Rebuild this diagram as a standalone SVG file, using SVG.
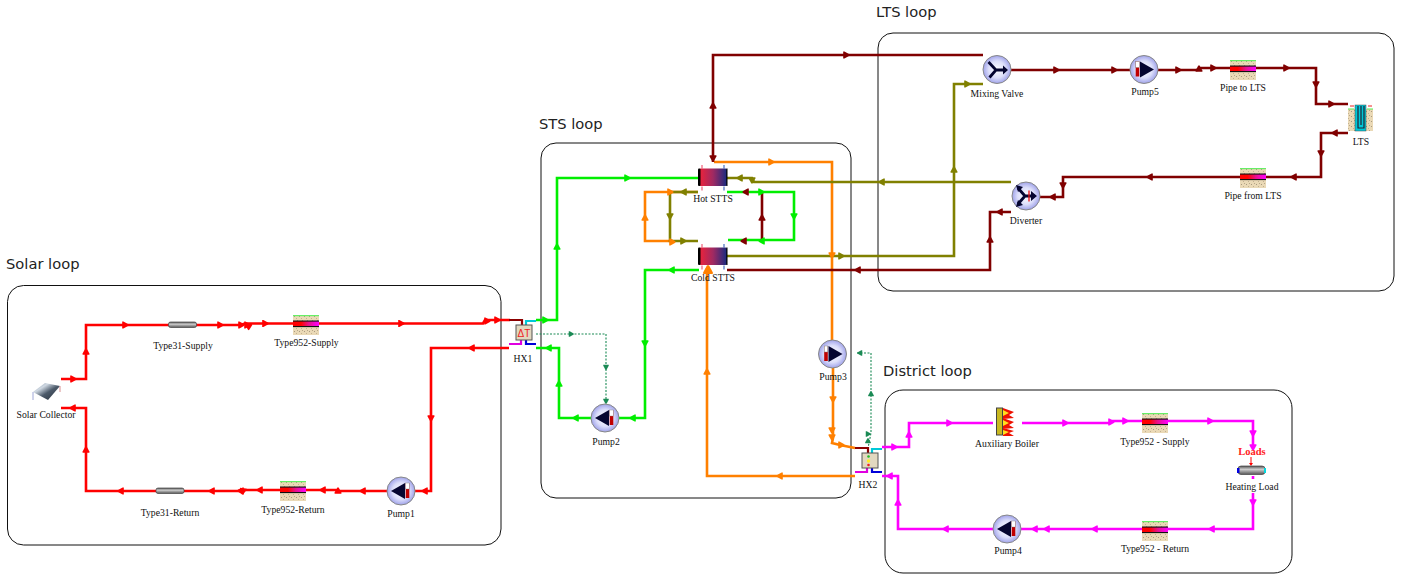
<svg xmlns="http://www.w3.org/2000/svg" width="1403" height="574" viewBox="0 0 1403 574">
<style>
.box{fill:none;stroke:#111;stroke-width:1}
.loop{font:14.7px "DejaVu Sans",sans-serif;fill:#222}
.lb{font:9.7px "Liberation Serif",serif;fill:#111;text-anchor:middle}
.c{fill:none;stroke-width:2.6;stroke-linejoin:miter}
.red{stroke:#ff0000}.grn{stroke:#00ee00}.org{stroke:#ff8000}.mag{stroke:#ff00ff}.dr{stroke:#800000}.olv{stroke:#808000}
.dot{fill:none;stroke:#1b8a55;stroke-width:1.100;stroke-dasharray:2 1.500}
.ared{fill:#ff0000}.agrn{fill:#00ee00}.aorg{fill:#ff8000}.amag{fill:#ff00ff}.adr{fill:#800000}.aolv{fill:#808000}.adot{fill:#1b8a55}
</style>
<defs>
<path id="a" d="M-2.800-3.400L-1.600-3.400L3.400-0.700V0.700L-1.600 3.400H-2.800z"/>
<radialGradient id="pg" cx="0.5" cy="0.5" r="0.55"><stop offset="0" stop-color="#fff"/><stop offset="0.55" stop-color="#dcdefa"/><stop offset="1" stop-color="#9093e6"/></radialGradient>
<linearGradient id="pipeg"><stop offset="0" stop-color="#f00"/><stop offset="0.3" stop-color="#f00"/><stop offset="0.6" stop-color="#e8108a"/><stop offset="1" stop-color="#f0f"/></linearGradient>
<linearGradient id="cyl" x2="0" y2="1"><stop offset="0" stop-color="#555"/><stop offset="0.4" stop-color="#ccc"/><stop offset="1" stop-color="#555"/></linearGradient>
<linearGradient id="tank"><stop offset="0" stop-color="#f02238"/><stop offset="0.5" stop-color="#a02a62"/><stop offset="1" stop-color="#162a80"/></linearGradient>
<linearGradient id="sol" x1="0" y1="0" x2="1" y2="1"><stop offset="0" stop-color="#8a98a8"/><stop offset="0.3" stop-color="#cfd8e2"/><stop offset="0.55" stop-color="#4c5a6a"/><stop offset="1" stop-color="#262e38"/></linearGradient>
<pattern id="sand" width="5" height="5" patternUnits="userSpaceOnUse"><rect width="5" height="5" fill="#ead9b6"/><rect x="1" y="1" width="1" height="1" fill="#a89a80"/><rect x="3" y="3" width="1" height="1" fill="#c2b090"/><rect x="4" y="0" width="1" height="1" fill="#b8a78a"/></pattern>
<g id="pump"><circle r="14" fill="url(#pg)" stroke="#888" stroke-width="1"/><path d="M-10 0L4-8V8z" fill="#050530"/><rect x="4.700" y="-8" width="3.600" height="15" fill="#c00000"/><rect x="4.700" y="-8" width="3.600" height="6" fill="#fff" stroke="#777" stroke-width=".4"/></g>
<g id="pipe"><rect width="26" height="20" fill="url(#sand)"/><rect width="26" height="1.200" fill="#66ee66"/><rect y="6" width="26" height="5.500" fill="url(#pipeg)"/><rect y="5.500" width="26" height="1.100" fill="#111"/><rect y="11" width="26" height="1.100" fill="#111"/></g>
<g id="stts"><path d="M3-3.500V0M3 18V22" stroke="#f0607a" stroke-width="1.200"/><path d="M25-3.500V0M25 18V22" stroke="#4a70c0" stroke-width="1.200"/><rect x="0" y="0" width="28" height="17.500" rx="1.500" fill="url(#tank)"/><rect x="-1" y="0" width="2.500" height="17.500" rx="1" fill="#000"/><rect x="27.300" y="0" width="1.200" height="17.500" fill="#000"/></g>
<g id="cylinder"><rect width="28" height="5.500" rx="2" fill="url(#cyl)" stroke="#444" stroke-width=".7"/></g>
<g id="hxp"><path d="M-7 -5H6V0" fill="none" stroke="#8b0000" stroke-width="2.200"/><path d="M10 0V-4H20" fill="none" stroke="#00c8d8" stroke-width="2.200"/><path d="M-7 19H5V15" fill="none" stroke="#e000e0" stroke-width="2.200"/><path d="M10 15V19H20" fill="none" stroke="#0000d8" stroke-width="2.200"/><rect width="16" height="15" fill="#e2d8c0" stroke="#555" stroke-width="1"/></g>
</defs>
<rect width="1403" height="574" fill="#fff"/>
<g id="loops">
<rect class="box" x="7.500" y="285.500" width="493.500" height="259.500" rx="16"/>
<rect class="box" x="541" y="143" width="310" height="355" rx="15"/>
<rect class="box" x="878" y="33" width="516" height="258" rx="15"/>
<rect class="box" x="885" y="390" width="407" height="183" rx="18"/>
<text class="loop" x="6" y="269">Solar loop</text>
<text class="loop" x="539" y="129">STS loop</text>
<text class="loop" x="876" y="17">LTS loop</text>
<text class="loop" x="883" y="376">District loop</text>
</g>
<g id="connectors">
<path class="c red" d="M61 379H86V325H240L245 323.500H483L485 320H510"/>
<path class="c red" d="M509 348H431V491H387H338L336 490H306H240L238 491H86V408H61"/>
<path class="c grn" d="M536 320H557V178H698"/>
<path class="c grn" d="M536 348H559V418H591M619 418H645V270H699"/>
<path class="c grn" d="M727 192H794V240H728"/>
<path class="c dr" d="M762 192V240"/>
<path class="c org" d="M698 192H645V241H673"/>
<path class="c olv" d="M698 192H670V241H698"/>
<path class="c org" d="M714 162H832V342"/>
<path class="c dr" d="M983 55H713V162"/>
<path class="c olv" d="M727 178H752L754 182H1011"/>
<path class="c olv" d="M727 256H954V84H983"/>
<path class="c dr" d="M727 270H990V212H1011"/>
<path class="c org" d="M855 476H707V268"/>
<path class="c org" d="M833 366V438L832 443L840 445L855 448"/>
<path class="c dr" d="M1011 70H1130M1158 70H1197L1201 68H1316V104H1348"/>
<path class="c dr" d="M1348 133H1321V177H1063V197H1040"/>
<path class="c mag" d="M882 447H909V423H993M1022 423H1110L1112 421H1253V448M1253 476V479M1253 493V529H1021M993 529H898V476H882"/>
<path class="dot" d="M536 334H606V404"/>
<path class="dot" d="M857 353H871V433L868 448"/>
<g class="ared">
<use href="#a" transform="translate(73 379)"/><use href="#a" transform="translate(86 352) rotate(-90)"/><use href="#a" transform="translate(125 325)"/><use href="#a" transform="translate(220 325)"/><use href="#a" transform="translate(241 325)"/><use href="#a" transform="translate(247 325)"/><use href="#a" transform="translate(249 326) rotate(-30)"/><use href="#a" transform="translate(265 323.500)"/><use href="#a" transform="translate(401 323.500)"/><use href="#a" transform="translate(487 321)"/><use href="#a" transform="translate(497 320)"/>
<use href="#a" transform="translate(472 348) rotate(180)"/><use href="#a" transform="translate(431 418) rotate(90)"/><use href="#a" transform="translate(425 491) rotate(180)"/><use href="#a" transform="translate(363 491) rotate(180)"/><use href="#a" transform="translate(338 491) rotate(-90)"/><use href="#a" transform="translate(323 490) rotate(180)"/><use href="#a" transform="translate(260 490) rotate(180)"/><use href="#a" transform="translate(241 491) rotate(180)"/><use href="#a" transform="translate(243 491) rotate(100)"/><use href="#a" transform="translate(212 491) rotate(180)"/><use href="#a" transform="translate(121 491) rotate(180)"/><use href="#a" transform="translate(86 450) rotate(-90)"/><use href="#a" transform="translate(73 408) rotate(180)"/>
</g>
<g class="agrn">
<use href="#a" transform="translate(545 320)"/><use href="#a" transform="translate(557 247) rotate(-90)"/><use href="#a" transform="translate(627 178)"/><use href="#a" transform="translate(549 348) rotate(180)"/><use href="#a" transform="translate(559 384) rotate(-90)"/><use href="#a" transform="translate(576 418) rotate(180)"/><use href="#a" transform="translate(633 418) rotate(180)"/><use href="#a" transform="translate(645 343) rotate(90)"/><use href="#a" transform="translate(672 270) rotate(180)"/><use href="#a" transform="translate(761 192)"/><use href="#a" transform="translate(794 216) rotate(90)"/><use href="#a" transform="translate(762 241) rotate(180)"/>
</g>
<g class="adr">
<use href="#a" transform="translate(746 192) rotate(180)"/><use href="#a" transform="translate(744 241) rotate(180)"/><use href="#a" transform="translate(762 218) rotate(-90)"/><use href="#a" transform="translate(846 55)"/><use href="#a" transform="translate(713 106) rotate(-90)"/><use href="#a" transform="translate(713 158) rotate(90)"/><use href="#a" transform="translate(858 270) rotate(180)"/><use href="#a" transform="translate(990 240) rotate(-90)"/><use href="#a" transform="translate(1000 212) rotate(180)"/><use href="#a" transform="translate(1056 70)"/><use href="#a" transform="translate(1114 70)"/><use href="#a" transform="translate(1178 70)"/><use href="#a" transform="translate(1199 69) rotate(-90)"/><use href="#a" transform="translate(1213 68)"/><use href="#a" transform="translate(1286 68)"/><use href="#a" transform="translate(1316 84) rotate(90)"/><use href="#a" transform="translate(1331 104)"/><use href="#a" transform="translate(1335 133) rotate(180)"/><use href="#a" transform="translate(1321 153) rotate(90)"/><use href="#a" transform="translate(1294 177) rotate(180)"/><use href="#a" transform="translate(1150 177) rotate(180)"/><use href="#a" transform="translate(1063 185) rotate(90)"/><use href="#a" transform="translate(1053 197) rotate(180)"/>
</g>
<g class="aolv">
<use href="#a" transform="translate(684 192) rotate(180)"/><use href="#a" transform="translate(683 241)"/><use href="#a" transform="translate(670 216) rotate(90)"/><use href="#a" transform="translate(740 178) rotate(180)"/><use href="#a" transform="translate(752 180) rotate(90)"/><use href="#a" transform="translate(882 182) rotate(180)"/><use href="#a" transform="translate(841 256)"/><use href="#a" transform="translate(954 170) rotate(-90)"/><use href="#a" transform="translate(967 84)"/>
</g>
<g class="aorg">
<use href="#a" transform="translate(645 218) rotate(-90)"/><use href="#a" transform="translate(670 192)"/><use href="#a" transform="translate(672 242)"/><use href="#a" transform="translate(771 162)"/><use href="#a" transform="translate(832 255) rotate(90)"/><use href="#a" transform="translate(833 399) rotate(90)"/><use href="#a" transform="translate(832 430) rotate(90)"/><use href="#a" transform="translate(832 437) rotate(90)"/><use href="#a" transform="translate(841 445)"/><use href="#a" transform="translate(780 476) rotate(180)"/><use href="#a" transform="translate(707 372) rotate(-90)"/><use href="#a" transform="translate(708 270) rotate(-90) scale(1.400)"/>
</g>
<g class="amag">
<use href="#a" transform="translate(894 447)"/><use href="#a" transform="translate(909 435) rotate(-90)"/><use href="#a" transform="translate(949 423)"/><use href="#a" transform="translate(1065 423)"/><use href="#a" transform="translate(1111 422)"/><use href="#a" transform="translate(1125 421)"/><use href="#a" transform="translate(1210 421)"/><use href="#a" transform="translate(1253 433) rotate(90)"/><use href="#a" transform="translate(1253 447) rotate(90)"/><use href="#a" transform="translate(1253 502) rotate(90)"/><use href="#a" transform="translate(1212 529) rotate(180)"/><use href="#a" transform="translate(1095 529) rotate(180)"/><use href="#a" transform="translate(1047 529) rotate(180)"/><use href="#a" transform="translate(1035 529) rotate(180)"/><use href="#a" transform="translate(946 529) rotate(180)"/><use href="#a" transform="translate(898 503) rotate(-90)"/><use href="#a" transform="translate(890 476) rotate(180)"/>
</g>
<g class="adot">
<use href="#a" transform="translate(571 334) scale(.8)"/><use href="#a" transform="translate(606 367) rotate(90) scale(.8)"/><use href="#a" transform="translate(606 401) rotate(90) scale(.8)"/><use href="#a" transform="translate(860 353) rotate(180) scale(.8)"/><use href="#a" transform="translate(871 394) rotate(-90) scale(.8)"/><use href="#a" transform="translate(868 434) scale(.8)"/><use href="#a" transform="translate(868 441) rotate(-90) scale(.8)"/>
</g>
</g>
<g id="solar-collector"><path d="M33 392L45 383L60 386L48 400z" fill="url(#sol)"/><path d="M33 392V400" stroke="#a0a8d8" stroke-width="1"/><path d="M60 386V392" stroke="#d89090" stroke-width="1"/><text class="lb" x="46" y="418">Solar Collector</text></g>
<g id="type31-supply"><use href="#cylinder" transform="translate(168.500 322)"/><text class="lb" x="183" y="349">Type31-Supply</text></g>
<g id="type952-supply"><use href="#pipe" x="293" y="315"/><text class="lb" x="306.500" y="346">Type952-Supply</text></g>
<g id="type31-return"><use href="#cylinder" transform="translate(156 488)"/><text class="lb" x="170" y="515.500">Type31-Return</text></g>
<g id="type952-return"><use href="#pipe" x="280" y="481"/><text class="lb" x="293" y="512.500">Type952-Return</text></g>
<g id="pump1"><use href="#pump" x="401" y="491"/><text class="lb" x="401" y="516.500">Pump1</text></g>
<g id="hx1"><use href="#hxp" transform="translate(516 325)"/><text x="524" y="337" font-family="Liberation Sans,sans-serif" font-size="10" fill="#ee2222" text-anchor="middle">ΔT</text><text class="lb" x="523" y="361.500">HX1</text></g>
<g id="pump2"><use href="#pump" x="605" y="418"/><text class="lb" x="606" y="444.500">Pump2</text></g>
<g id="hot-stts"><use href="#stts" x="699" y="168.500"/><text class="lb" x="713" y="202">Hot STTS</text></g>
<g id="cold-stts"><use href="#stts" x="699" y="247.500"/><text class="lb" x="713" y="281">Cold STTS</text></g>
<g id="pump3"><use href="#pump" transform="translate(832.500 354) scale(-1 1)"/><text class="lb" x="833" y="380">Pump3</text></g>
<g id="hx2"><use href="#hxp" transform="translate(862 453)"/><circle cx="868.500" cy="456.500" r="1.300" fill="#22bb22"/><circle cx="868.500" cy="461" r="1.700" fill="#ffee22"/><circle cx="868.500" cy="465" r="1.300" fill="#ee2222"/><text class="lb" x="868" y="488">HX2</text></g>
<g id="mixing-valve"><circle cx="997" cy="69.500" r="14" fill="url(#pg)" stroke="#888"/><path d="M988.500 62L996 70L989.500 77.500M996 70H1004" fill="none" stroke="#050530" stroke-width="2.800"/><path d="M1003 65.500L1008 70L1003 74.500z" fill="#050530"/><text class="lb" x="997" y="97">Mixing Valve</text></g>
<g id="diverter"><circle cx="1026" cy="196" r="14" fill="url(#pg)" stroke="#888"/><path d="M1034 196H1025L1018 188M1025 196L1018 204" fill="none" stroke="#050530" stroke-width="2.800"/><path d="M1016 185L1023 187L1018 192zM1016 207L1023 205L1018 200zM1031 191L1037 196L1031 201z" fill="#050530"/><path d="M1029 190.500V201.500" stroke="#ee1111" stroke-width="1.300"/><text class="lb" x="1026" y="224">Diverter</text></g>
<g id="pump5"><use href="#pump" transform="translate(1144 69.500) scale(-1 1)"/><text class="lb" x="1145" y="95">Pump5</text></g>
<g id="pipe-to-lts"><use href="#pipe" x="1230" y="60"/><text class="lb" x="1243" y="91">Pipe to LTS</text></g>
<g id="pipe-from-lts"><use href="#pipe" x="1240" y="168"/><text class="lb" x="1253" y="199">Pipe from LTS</text></g>
<g id="lts"><rect x="1348" y="109" width="25" height="22" fill="url(#sand)"/><path d="M1348 109H1354M1367 109H1373" stroke="#55ee55" stroke-width="1"/><path d="M1350 106H1354M1368 106H1372" stroke="#ee2222" stroke-width="1"/><rect x="1355" y="105" width="11" height="26" fill="#00c8d8" stroke="#444" stroke-width=".5"/><path d="M1358 106V128H1364V106M1361 106V125" fill="none" stroke="#223" stroke-width="1.200"/><text class="lb" x="1361" y="145">LTS</text></g>
<g id="auxiliary-boiler"><rect x="996.500" y="408" width="6" height="27" fill="#c8b820" stroke="#444"/><path d="M1003 408L1014 412L1009 415L1014 418L1003 419zM1003 418L1014 422L1009 425L1014 428L1003 429zM1003 428L1014 431L1009 433L1014 436L1003 436z" fill="#ee1100"/><path d="M1003 410L1009 413L1003 416zM1003 420L1009 423L1003 426zM1003 430L1009 432L1003 435z" fill="#ffe020"/><text class="lb" x="1007" y="447">Auxiliary Boiler</text></g>
<g id="type952-supply-d"><use href="#pipe" x="1142" y="413"/><text class="lb" x="1155" y="444.500">Type952 - Supply</text></g>
<g id="heating-load"><text x="1252" y="454.500" font-family="Liberation Serif,serif" font-size="10.500" font-weight="bold" fill="#ff2222" text-anchor="middle">Loads</text><path d="M1251 457V464" stroke="#f00" stroke-width="1"/><path d="M1249 463L1251 466L1253 463z" fill="#f00"/><rect x="1238" y="466" width="27" height="8.500" rx="3" fill="url(#cyl)" stroke="#444" stroke-width=".7"/><rect x="1237" y="468" width="2.500" height="5" fill="#0000e0"/><rect x="1264" y="468" width="2" height="5" fill="#00d8e0"/><text class="lb" x="1252" y="489.500">Heating Load</text></g>
<g id="type952-return-d"><use href="#pipe" x="1142" y="521"/><text class="lb" x="1155" y="552">Type952 - Return</text></g>
<g id="pump4"><use href="#pump" x="1007" y="529"/><text class="lb" x="1008" y="554">Pump4</text></g>
</svg>
